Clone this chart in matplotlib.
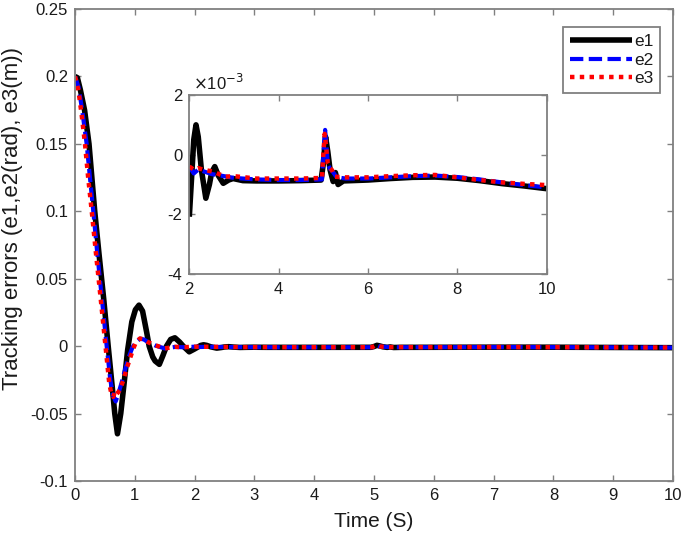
import matplotlib
matplotlib.use("Agg")
import matplotlib.pyplot as plt

plt.rcParams['font.family'] = ['Liberation Sans', 'DejaVu Sans']

# ---------------- data ----------------
t1 = [0, 0.04, 0.09, 0.16, 0.234, 0.33, 0.40, 0.48, 0.555, 0.62, 0.665, 0.71, 0.765, 0.79, 0.82,
      0.88, 0.95, 1.01, 1.07, 1.13, 1.2, 1.24, 1.3, 1.34, 1.41, 1.47, 1.53, 1.6, 1.67, 1.75, 1.81,
      1.91, 2.0, 2.05, 2.1, 2.15, 2.2, 2.27, 2.37, 2.45, 2.5, 2.57, 2.65, 2.76, 2.88, 2.98, 3.2,
      3.5, 4.0, 4.5, 4.95, 5.0, 5.05, 5.1, 5.15, 5.22, 5.27, 5.33, 5.45, 6.0, 6.5, 7.0, 7.5, 8.0,
      8.5, 9.0, 9.5, 10.0]
e1 = [0.2, 0.199, 0.19, 0.175, 0.15, 0.1, 0.069, 0.035, 0.0, -0.029, -0.05, -0.065, -0.05, -0.040,
      -0.028, -0.003, 0.018, 0.027, 0.0304, 0.026, 0.01, 0.0, -0.008, -0.011, -0.0135, -0.007, 0.0,
      0.005, 0.0062, 0.003, 0.0, -0.0042, -0.00208, -0.0008, 0.0005, 0.001, 0.0006, -0.0005,
      -0.00146, -0.001, -0.0006, -0.0004, -0.0007, -0.00096, -0.00085, -0.0008, -0.00087,
      -0.00088, -0.00088, -0.00087, -0.00085, -0.0003, 0.0006, 0.0001, -0.0005, -0.0009, -0.0006,
      -0.001, -0.00088, -0.00085, -0.0008, -0.00076, -0.00075, -0.00079, -0.00087, -0.00097,
      -0.00105, -0.00114]

t2 = [0, 0.06, 0.12, 0.195, 0.25, 0.306, 0.37, 0.45, 0.53, 0.59, 0.64, 0.68, 0.72, 0.78, 0.84,
      0.9, 0.96, 1.02, 1.087, 1.15, 1.22, 1.34, 1.5, 1.67, 1.8, 1.92, 2.0, 2.1, 2.2, 2.3, 2.5,
      2.7, 3.0, 3.5, 4.0, 4.5, 4.97, 5.0, 5.04, 5.07, 5.1, 5.15, 5.2, 5.3, 5.5, 6.0, 6.5, 7.0,
      7.5, 8.0, 8.5, 9.0, 9.5, 10.0]
e2 = [0.2, 0.192, 0.175, 0.15, 0.125, 0.1, 0.07, 0.035, 0.0, -0.025, -0.037, -0.041, -0.036,
      -0.027, -0.017, -0.008, -0.001, 0.003, 0.0055, 0.005, 0.003, 0.0005, -0.0017, -0.0006,
      -0.0008, -0.0006, -0.0004, -0.00063, -0.0005, -0.00055, -0.00065, -0.0007, -0.00078,
      -0.00083, -0.00085, -0.00085, -0.00083, 0.0, 0.00083, 0.0003, -0.0003, -0.00048, -0.00055,
      -0.00076, -0.0008, -0.0008, -0.00076, -0.00072, -0.0007, -0.00075, -0.00083, -0.00093,
      -0.00102, -0.0011]

t3 = [0, 0.056, 0.11, 0.167, 0.22, 0.28, 0.35, 0.43, 0.51, 0.574, 0.61, 0.64, 0.665, 0.69, 0.75,
      0.81, 0.865, 0.92, 0.975, 1.02, 1.087, 1.15, 1.22, 1.34, 1.5, 1.67, 1.8, 1.92, 2.0, 2.1,
      2.2, 2.3, 2.54, 2.8, 3.0, 3.5, 4.0, 4.5, 4.97, 5.0, 5.03, 5.06, 5.1, 5.15, 5.19, 5.26, 5.5,
      6.0, 6.5, 7.0, 7.5, 8.0, 8.5, 9.0, 9.5, 10.0]
e3 = [0.2, 0.19, 0.172, 0.15, 0.125, 0.1, 0.069, 0.035, 0.0, -0.028, -0.0355, -0.0376, -0.034,
      -0.036, -0.0326, -0.025, -0.0166, -0.009, -0.0018, 0.003, 0.0057, 0.005, 0.003, 0.0007,
      -0.0017, -0.0005, -0.0008, -0.0006, -0.0004, -0.0005, -0.00045, -0.0005, -0.00057,
      -0.00074, -0.00072, -0.0008, -0.0008, -0.0008, -0.00078, 0.0, 0.0007, 0.0003, -0.0003,
      -0.00045, -0.00051, -0.00074, -0.00076, -0.00076, -0.00072, -0.00069, -0.00068, -0.00076,
      -0.00085, -0.00093, -0.00098, -0.00102]

series_names = ['e1', 'e2', 'e3']
x_ticks = [0, 1, 2, 3, 4, 5, 6, 7, 8, 9, 10]
y_ticks = [-0.1, -0.05, 0, 0.05, 0.1, 0.15, 0.2, 0.25]
y_ticklabels = ['-0.1', '-0.05', '0', '0.05', '0.1', '0.15', '0.2', '0.25']
inset_start = 2
inset_x_ticks = [2, 4, 6, 8, 10]
inset_y_ticks = [-0.004, -0.002, 0, 0.002]
inset_y_ticklabels = ['-4', '-2', '0', '2']

# ---------------- styling ----------------
W, H = 685, 537
fig = plt.figure(figsize=(W / 100, H / 100), dpi=100)
SPINE = '#808080'
TXT = '#1a1a1a'


def style_axes(ax, fs, pad_x, pad_y):
    for s in ax.spines.values():
        s.set_color(SPINE)
        s.set_linewidth(1.3)
    ax.tick_params(direction='in', top=True, right=True, color=SPINE, width=1.0,
                   length=4.5, labelcolor=TXT, labelsize=fs)
    ax.tick_params(axis='x', pad=pad_x)
    ax.tick_params(axis='y', pad=pad_y)


def sel(t, v, t0):
    pairs = [(a, b) for a, b in zip(t, v) if a >= t0]
    return [p[0] for p in pairs], [p[1] for p in pairs]


def draw(ax, t0=None):
    d1, d2, d3 = (t1, e1), (t2, e2), (t3, e3)
    if t0 is not None:
        d1, d2, d3 = sel(t1, e1, t0), sel(t2, e2, t0), sel(t3, e3, t0)
    l1, = ax.plot(*d1, color='black', lw=4.0, solid_capstyle='butt', label=series_names[0])
    l2, = ax.plot(*d2, color='#0000ff', lw=3.0, linestyle=(0, (3.2, 1.3)),
                  dash_capstyle='butt', label=series_names[1])
    l3, = ax.plot(*d3, color='#ff0000', lw=3.2, linestyle=(0, (1.0, 1.2)),
                  dash_capstyle='butt', label=series_names[2])
    return [l1, l2, l3]


ax = fig.add_axes([75 / W, 1 - 481 / H, 598 / W, 472 / H])
lines = draw(ax)
ax.set_xlim(0, 10)
ax.set_ylim(-0.1, 0.25)
ax.set_xticks(x_ticks)
ax.set_xticklabels([str(v) for v in x_ticks])
ax.set_yticks(y_ticks)
ax.set_yticklabels(y_ticklabels)
style_axes(ax, 12, 5, 5)
ax.set_xlabel('Time (S)', fontsize=15, color=TXT)
ax.xaxis.set_label_coords(0.5, -0.066)
ax.xaxis.label.set_va('top')
ax.set_ylabel('Tracking errors (e1,e2(rad), e3(m))', fontsize=16, color=TXT)
ax.yaxis.set_label_coords(-0.105, 0.557)
ax.yaxis.label.set_va('center')

leg = ax.legend(handles=lines, loc='upper right', bbox_to_anchor=(0.979, 0.962),
                borderaxespad=0, fancybox=False, framealpha=1, edgecolor=SPINE,
                fontsize=12.5, handlelength=3.6, handletextpad=0.1, labelspacing=0.2,
                borderpad=0.4)
leg.get_frame().set_linewidth(1.3)
for txt in leg.get_texts():
    txt.set_color(TXT)

# inset
axi = fig.add_axes([189.3 / W, 1 - 274 / H, (546.7 - 189.3) / W, (274 - 95) / H])
draw(axi, inset_start)
axi.set_xlim(2, 10)
axi.set_ylim(-0.004, 0.002)
axi.set_xticks(inset_x_ticks)
axi.set_xticklabels([str(v) for v in inset_x_ticks])
axi.set_yticks(inset_y_ticks)
axi.set_yticklabels(inset_y_ticklabels)
style_axes(axi, 12, 6, 5)
axi.text(0.01, 1.01, r'$\times$10$^{-3}$', transform=axi.transAxes, fontsize=12,
         color=TXT, ha='left', va='bottom')

fig.savefig('out.png', dpi=100)
